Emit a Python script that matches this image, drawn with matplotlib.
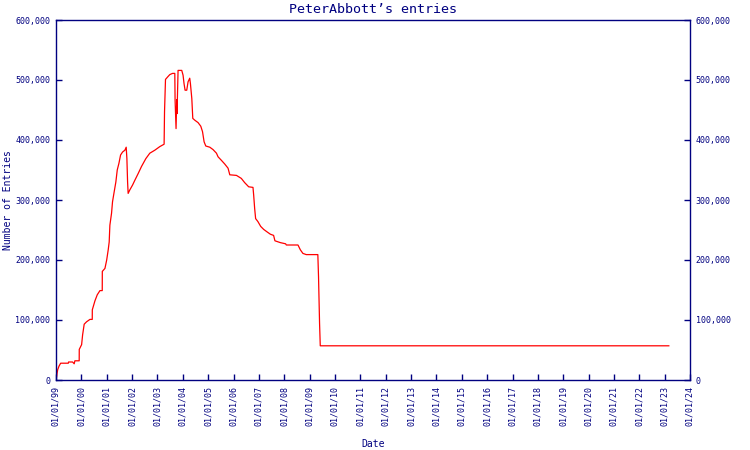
import matplotlib
matplotlib.use("Agg")
import matplotlib.pyplot as plt
from matplotlib.ticker import FuncFormatter
import pandas as pd

dates = [
    "1999-01-09", "1999-01-25", "1999-02-13", "1999-03-09", "1999-06-27", "1999-07-01",
    "1999-08-28", "1999-09-20", "1999-09-30", "1999-12-01", "1999-12-02", "2000-01-05",
    "2000-01-19", "2000-02-11", "2000-03-16", "2000-05-04", "2000-06-06", "2000-06-07",
    "2000-07-15", "2000-08-17", "2000-09-25", "2000-10-28", "2000-10-29", "2000-12-06",
    "2000-12-31", "2001-01-22", "2001-02-05", "2001-02-15", "2001-03-11", "2001-03-25",
    "2001-04-14", "2001-05-12", "2001-06-01", "2001-06-25", "2001-07-19", "2001-08-17",
    "2001-09-19", "2001-10-08", "2001-10-18", "2001-10-28", "2001-11-05", "2001-11-30",
    "2002-01-08", "2002-02-10", "2002-03-29", "2002-05-17", "2002-07-18", "2002-09-13",
    "2002-11-24", "2003-02-04", "2003-04-07", "2003-04-13", "2003-04-27", "2003-06-04",
    "2003-06-28", "2003-08-06", "2003-09-08", "2003-09-12", "2003-09-26", "2003-10-06",
    "2003-10-10", "2003-10-25", "2003-12-17", "2004-01-05", "2004-01-19", "2004-02-03",
    "2004-02-27", "2004-03-17", "2004-04-10", "2004-04-20", "2004-05-10", "2004-05-24",
    "2004-06-22", "2004-08-08", "2004-09-16", "2004-10-11", "2004-11-03", "2004-11-27",
    "2005-01-24", "2005-03-12", "2005-04-30", "2005-05-23", "2005-07-11", "2005-08-27",
    "2005-10-14", "2005-11-08", "2006-02-12", "2006-04-23", "2006-06-10", "2006-08-07",
    "2006-10-08", "2006-10-18", "2006-11-01", "2006-11-15", "2006-12-18", "2007-01-27",
    "2007-03-11", "2007-04-27", "2007-06-15", "2007-08-01", "2007-08-20", "2007-11-05",
    "2008-01-21", "2008-01-31", "2008-07-17", "2008-08-20", "2008-09-26", "2008-11-13",
    "2009-04-29", "2009-05-09", "2009-05-24", "2009-06-03", "2023-03-02",
]
entries = [
    5000, 17000, 23000, 28000, 28000, 30000,
    30000, 27000, 32000, 32000, 51000, 59000,
    75000, 93000, 97000, 101000, 101000, 117000,
    132000, 142000, 149000, 149000, 181000, 186000,
    200000, 217000, 230000, 258000, 278000, 297000,
    311000, 330000, 350000, 361000, 375000, 380000,
    383000, 388000, 369000, 330000, 311000, 317000,
    325000, 333000, 344000, 356000, 369000, 378000,
    383000, 389000, 393000, 447000, 501000, 506000,
    509000, 511000, 511000, 467000, 419000, 467000,
    444000, 516000, 516000, 508000, 494000, 483000,
    483000, 497000, 503000, 494000, 469000, 436000,
    433000, 429000, 423000, 414000, 397000, 390000,
    388000, 384000, 378000, 372000, 366000, 360000,
    353000, 342000, 341000, 336000, 329000, 322000,
    321000, 308000, 286000, 269000, 264000, 256000,
    251000, 247000, 243000, 241000, 232000, 229000,
    227000, 225000, 225000, 217000, 211000, 209000,
    209000, 172000, 94000, 57000, 57000,
]
tick_years = list(range(1999, 2025))
title = "PeterAbbott\u2019s entries"

navy = "#000080"
font = "DejaVu Sans Mono"

fig = plt.figure(figsize=(7.5, 4.5), dpi=100)
ax = fig.add_axes([56/750, 1-380/450, (690-56)/750, 360/450])

x = pd.to_datetime(dates)
ax.plot(x, entries, color="red", linewidth=0.9)

ax.set_xlim(pd.Timestamp("1999-01-01"), pd.Timestamp("2024-01-01"))
ax.set_ylim(0, 600000)
ticks = [pd.Timestamp(f"{y}-01-01") for y in tick_years]
ax.set_xticks(ticks)
ax.set_xticklabels([t.strftime("%m/%d/%y") for t in ticks], rotation=90,
                   fontfamily=font, fontsize=6, color=navy)
ax.set_yticks(range(0, 600001, 100000))
ax.yaxis.set_major_formatter(FuncFormatter(lambda v, p: f"{int(v):,}"))
ax.tick_params(axis="both", direction="in", length=4, width=1, color=navy,
               labelcolor=navy, labelsize=6, right=True, labelright=True, pad=4)
for lab in ax.get_yticklabels() + ax.get_xticklabels():
    lab.set_fontfamily(font)

for s in ax.spines.values():
    s.set_color(navy)
    s.set_linewidth(1)

ax.set_title(title, fontfamily=font, fontsize=9.6, color=navy, pad=5)
ax.set_xlabel("Date", fontfamily=font, fontsize=7, color=navy, labelpad=10)
ax.set_ylabel("Number of Entries", fontfamily=font, fontsize=7, color=navy)
ax.yaxis.label.set_va("center")
ax.yaxis.set_label_coords((7.5 - 56) / 634, 0.5)

fig.savefig("out.png", dpi=100)
